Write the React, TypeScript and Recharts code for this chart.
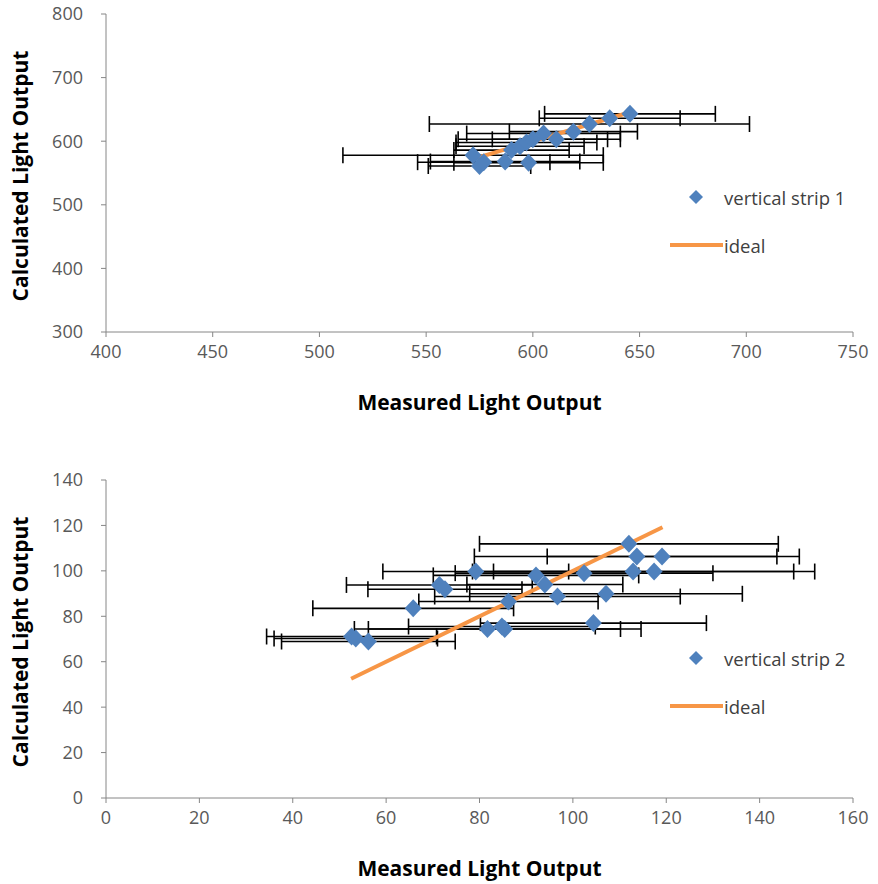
import { ScatterChart, Scatter, XAxis, YAxis, ErrorBar, Legend, Label } from "recharts";

// vertical strip 1 (top chart)
const strip1Measured = [572, 575, 577, 587, 598, 590, 594, 597, 600, 605, 611, 619, 626.5, 636, 645.5];
const strip1Calculated = [578, 561, 567, 568, 566, 586, 592, 598, 603, 612, 603, 615, 627, 636, 643];
const strip1Error = [61, 24, 31, 35, 35, 27, 30, 33, 35, 36, 30, 30, 75, 33, 40];
const ideal1 = [572, 645.5];

// vertical strip 2 (bottom chart)
const strip2Measured = [112.0, 113.7, 119.1, 79.2, 92.1, 102.4, 112.9, 117.4, 94.0, 71.4, 72.6, 96.7, 107.1, 86.2, 65.8, 104.4, 81.7, 85.4, 84.8, 52.6, 53.5, 56.2];
const strip2Calculated = [111.9, 106.3, 106.3, 99.7, 98.0, 99.0, 99.7, 99.7, 94.0, 93.8, 91.9, 88.7, 89.9, 86.5, 83.5, 77.0, 74.4, 74.4, 75.5, 71.1, 70.2, 68.9];
const strip2Error = [32, 34.8, 24.6, 19.9, 22, 27.6, 34.4, 34.4, 16.7, 19.9, 16.5, 26.3, 29.2, 19.2, 21.5, 24.2, 28.5, 29.2, 20, 18.2, 17.5, 18.6];
const ideal2 = [52.5, 119.2];

const xTicks1 = [400, 450, 500, 550, 600, 650, 700, 750];
const yTicks1 = [300, 400, 500, 600, 700, 800];
const xTicks2 = [0, 20, 40, 60, 80, 100, 120, 140, 160];
const yTicks2 = [0, 20, 40, 60, 80, 100, 120, 140];

const BLUE = "#4F81BD";
const ORANGE = "#F79646";
const AXIS = "#868686";
const FONT = "'Open Sans', sans-serif";

const Diamond = (props: any) => {
  const { cx, cy } = props;
  if (cx == null || cy == null) return <g />;
  return <path d={`M${cx},${cy - 9}L${cx + 8.5},${cy}L${cx},${cy + 9}L${cx - 8.5},${cy}Z`} fill={BLUE} />;
};

const NoDot = () => <g />;

const XTitle = (props: any) => {
  const vb = props.viewBox || { x: 106, y: 332, width: 747 };
  return (
    <text x={vb.x + vb.width / 2} y={vb.y + 72} textAnchor="middle" dominantBaseline="middle"
      fontFamily={FONT} fontWeight="bold" fontSize={21} fill="#000">
      Measured Light Output
    </text>
  );
};

const YTitle = (props: any) => {
  const vb = props.viewBox || { y: 14, height: 318 };
  const cx = 22;
  const cy = vb.y + vb.height / 2 + 3;
  return (
    <text x={cx} y={cy} transform={`rotate(-90, ${cx}, ${cy})`} textAnchor="middle" dominantBaseline="middle"
      fontFamily={FONT} fontWeight="bold" fontSize={21} fill="#000">
      Calculated Light Output
    </text>
  );
};

function makeLegend(name: string) {
  return () => (
    <div style={{ fontFamily: FONT, fontSize: 18.5, color: "#404040" }}>
      <div style={{ display: "flex", alignItems: "center", height: 24 }}>
        <svg width={58} height={20}>
          <path d="M30,3L37,10L30,17L23,10Z" fill={BLUE} />
        </svg>
        <span>{name}</span>
      </div>
      <div style={{ display: "flex", alignItems: "center", height: 24, marginTop: 24 }}>
        <svg width={58} height={20}>
          <line x1={4} x2={57} y1={10} y2={10} stroke={ORANGE} strokeWidth={4} />
        </svg>
        <span>ideal</span>
      </div>
    </div>
  );
}

type PanelProps = {
  measured: number[];
  calculated: number[];
  errors: number[];
  ideal: number[];
  xTicks: number[];
  yTicks: number[];
  name: string;
  height: number;
  legendTop: number;
};

function Panel({ measured, calculated, errors, ideal, xTicks, yTicks, name, height, legendTop }: PanelProps) {
  const points = measured.map((m, i) => ({ x: m, y: calculated[i], err: errors[i] }));
  const line = ideal.map((v) => ({ x: v, y: v }));
  const tickStyle = { fontFamily: FONT, fontSize: 18, fill: "#595959" };
  return (
    <ScatterChart width={878} height={height} margin={{ top: 14, right: 25, bottom: height - 14 - 318 - 80, left: 6 }}>
      <XAxis type="number" dataKey="x" domain={[xTicks[0], xTicks[xTicks.length - 1]]} ticks={xTicks}
        stroke={AXIS} tickSize={5} tickMargin={8} tick={tickStyle} height={80} interval={0}>
        <Label content={<XTitle />} />
      </XAxis>
      <YAxis type="number" dataKey="y" domain={[yTicks[0], yTicks[yTicks.length - 1]]} ticks={yTicks}
        stroke={AXIS} tickSize={5} tickMargin={18} tick={tickStyle} width={100} interval={0}>
        <Label content={<YTitle />} />
      </YAxis>
      <Scatter name="ideal" data={line} line={{ stroke: ORANGE, strokeWidth: 4 }} shape={<NoDot />} isAnimationActive={false} />
      <Scatter name={name} data={points} shape={<Diamond />} isAnimationActive={false}>
        <ErrorBar dataKey="err" direction="x" width={8} stroke="#000" strokeWidth={1.6} isAnimationActive={false} />
      </Scatter>
      <Legend layout="horizontal" align="center" verticalAlign="middle" content={makeLegend(name)}
        wrapperStyle={{ left: 666, top: legendTop, width: 212 }} />
    </ScatterChart>
  );
}

export default function App() {
  return (
    <div style={{ position: "absolute", left: 0, top: 0, width: 878, height: 884, overflow: "hidden", background: "#fff" }}>
      <Panel measured={strip1Measured} calculated={strip1Calculated} errors={strip1Error} ideal={ideal1}
        xTicks={xTicks1} yTicks={yTicks1} name="vertical strip 1" height={466} legendTop={185} />
      <Panel measured={strip2Measured} calculated={strip2Calculated} errors={strip2Error} ideal={ideal2}
        xTicks={xTicks2} yTicks={yTicks2} name="vertical strip 2" height={418} legendTop={180} />
    </div>
  );
}
